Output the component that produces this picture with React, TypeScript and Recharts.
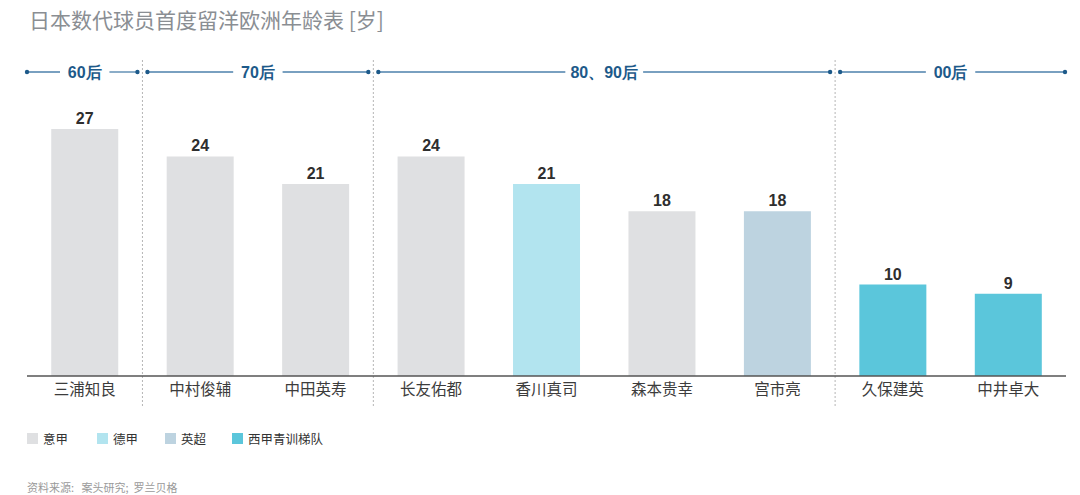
import React from "react";
import {
  BarChart,
  Bar,
  XAxis,
  YAxis,
  Cell,
  LabelList,
  ReferenceLine,
  ReferenceArea,
} from "recharts";

const PLAYERS = ["三浦知良", "中村俊辅", "中田英寿", "长友佑都", "香川真司", "森本贵幸", "宫市亮", "久保建英", "中井卓大"];
const AGES = [27, 24, 21, 24, 21, 18, 18, 10, 9];
const LEAGUES = ["意甲", "意甲", "意甲", "意甲", "德甲", "意甲", "英超", "西甲青训梯队", "西甲青训梯队"];

const LEAGUE_NAMES = ["意甲", "德甲", "英超", "西甲青训梯队"];
const LEAGUE_COLORS: Record<string, string> = {
  意甲: "#dfe0e2",
  德甲: "#b2e4ef",
  英超: "#bdd3e0",
  西甲青训梯队: "#5bc6db",
};

const GROUP_LABELS = ["60后", "70后", "80、90后", "00后"];
const GROUP_FIRST = ["三浦知良", "中村俊辅", "长友佑都", "久保建英"];
const GROUP_LAST = ["三浦知良", "中田英寿", "宫市亮", "中井卓大"];

const SEPARATORS = ["中村俊辅", "长友佑都", "久保建英"];

const data = PLAYERS.map((name, i) => ({ name, age: AGES[i], league: LEAGUES[i] }));

const BLUE = "#1d5a8a";
const LINE = "#4d80ab";
const LABEL_FONT = "'Liberation Sans Narrow', 'Liberation Sans', Arial, sans-serif";
const CJK_FONT = "'Noto Sans CJK SC', 'Noto Sans', sans-serif";

function textWidth(s: string) {
  let w = 0;
  for (const ch of s) {
    if (/[0-9]/.test(ch)) w += 8.2;
    else if (ch === "、") w += 12;
    else w += 15;
  }
  return w;
}

function GroupHeader(label: string, first: boolean, last: boolean) {
  return (props: any) => {
    const { x, y, width } = props;
    const hy = y - 57;
    const x1 = x + (first ? 0 : 5);
    const x2 = x + width - (last ? 1 : 5);
    const cx = x + width / 2;
    const half = textWidth(label) / 2 + 9;
    return (
      <g>
        <line x1={x1} y1={hy} x2={cx - half} y2={hy} stroke={LINE} strokeWidth={1.3} />
        <line x1={cx + half} y1={hy} x2={x2} y2={hy} stroke={LINE} strokeWidth={1.3} />
        <circle cx={x1} cy={hy} r={2.2} fill={BLUE} />
        <circle cx={x2} cy={hy} r={2.2} fill={BLUE} />
        <text
          x={cx}
          y={hy + 5.5}
          textAnchor="middle"
          fontFamily={LABEL_FONT}
          fontWeight="bold"
          fontSize={16}
          fill={BLUE}
        >
          {label}
        </text>
      </g>
    );
  };
}

function Separator(props: any) {
  const { x1 } = props;
  return <line x1={x1} y1={60} x2={x1} y2={406} stroke="#b5b5b5" strokeWidth={1} strokeDasharray="2 2" />;
}

const LEGEND_WIDTHS = [70, 68, 67, 120];

export default function App() {
  return (
    <div style={{ position: "absolute", left: 0, top: 0, width: 1080, height: 495, background: "#fff", fontFamily: CJK_FONT }}>
      <div style={{ position: "absolute", left: 29, top: 4, fontSize: 21, color: "#8a8e93", whiteSpace: "nowrap" }}>
        日本数代球员首度留洋欧洲年龄表 [岁]
      </div>
      <BarChart
        width={1080}
        height={495}
        data={data}
        margin={{ top: 129, right: 14, bottom: 89, left: 27 }}
        barCategoryGap="21%"
      >
        <XAxis
          dataKey="name"
          height={30}
          tickLine={false}
          tickSize={6}
          tickMargin={2}
          axisLine={{ stroke: "#555", strokeWidth: 1.5 }}
          tick={{ fill: "#3c3c3c", fontSize: 15.5, fontFamily: CJK_FONT }}
          interval={0}
        />
        <YAxis hide domain={[0, 27]} />
        {SEPARATORS.map((s) => (
          <ReferenceLine key={s} x={s} position="start" stroke="#b5b5b5" shape={Separator} />
        ))}
        {GROUP_LABELS.map((g, i) => (
          <ReferenceArea
            key={g}
            x1={GROUP_FIRST[i]}
            x2={GROUP_LAST[i]}
            fill="none"
            shape={GroupHeader(g, i === 0, i === GROUP_LABELS.length - 1)}
          />
        ))}
        <Bar dataKey="age" isAnimationActive={false}>
          {data.map((d) => (
            <Cell key={d.name} fill={LEAGUE_COLORS[d.league]} />
          ))}
          <LabelList
            dataKey="age"
            position="top"
            offset={5}
            fill="#2e2e2e"
            fontSize={16}
            fontWeight="bold"
            fontFamily={LABEL_FONT}
          />
        </Bar>
      </BarChart>
      <div style={{ position: "absolute", left: 27, top: 429, display: "flex", fontSize: 12.5, color: "#333" }}>
        {LEAGUE_NAMES.map((n, i) => (
          <div key={n} style={{ display: "flex", alignItems: "center", width: LEGEND_WIDTHS[i] }}>
            <span style={{ width: 11, height: 11, background: LEAGUE_COLORS[n], marginRight: 5, display: "inline-block" }} />
            <span>{n}</span>
          </div>
        ))}
      </div>
      <div style={{ position: "absolute", left: 27, top: 479, fontSize: 11, color: "#9a9a9a", whiteSpace: "pre" }}>
        资料来源:   案头研究;  罗兰贝格
      </div>
    </div>
  );
}
